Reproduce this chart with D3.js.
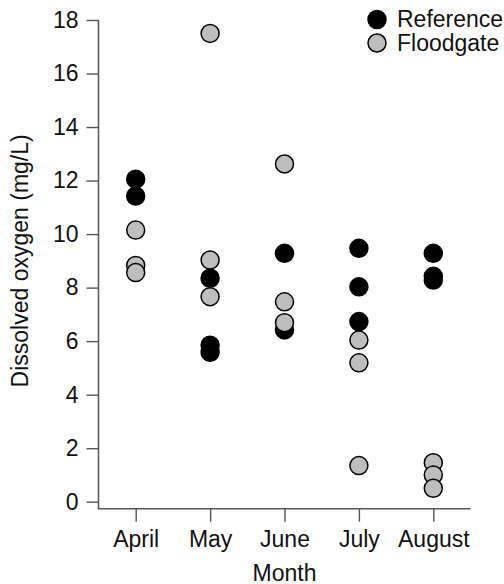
<!DOCTYPE html>
<html>
<head>
<meta charset="utf-8">
<script src="https://cdn.jsdelivr.net/npm/d3@7"></script>
<style>
  body { margin: 0; background: #fff; }
  svg text { font-family: "Liberation Sans", Arial, Helvetica, sans-serif; fill: #111; }
</style>
</head>
<body>
<svg id="chart" width="504" height="584"></svg>
<script>
// Data
var months = ['April', 'May', 'June', 'July', 'August']
var reference = [
  [12.05, 11.42],
  [8.35, 5.85, 5.58],
  [9.28, 6.42],
  [9.47, 8.03, 6.73],
  [9.28, 8.42, 8.28]
]
var floodgate = [
  [10.15, 8.83, 8.56],
  [17.5, 9.03, 7.66],
  [12.62, 7.47, 6.69],
  [6.04, 5.19, 1.35],
  [1.46, 1.0, 0.5]
]
var yTicks = [0, 2, 4, 6, 8, 10, 12, 14, 16, 18]
var legendItems = ['Reference', 'Floodgate']
var fills = { Reference: '#000', Floodgate: '#bebebe' }

var svg = d3.select('#chart')
var fontSize = 23

// Scales
var x = d3.scalePoint().domain(months).range([98.5, 470.5]).padding(0.5)
var y = d3.scaleLinear().domain([0, 18]).range([501.7, 20])
var axisY = 508.7 // bottom of the L box

// y axis
var gy = svg.append('g')
  .attr('transform', 'translate(98.5,0)')
  .call(d3.axisLeft(y).tickValues(yTicks).tickSize(12).tickPadding(8).tickSizeOuter(0))
gy.select('.domain').remove()

// x axis
var gx = svg.append('g')
  .attr('transform', 'translate(0,' + axisY + ')')
  .call(d3.axisBottom(x).tickSize(13).tickPadding(9).tickSizeOuter(0))
gx.select('.domain').remove()

svg.selectAll('.tick line').attr('stroke', '#555').attr('stroke-width', 1.4)
svg.selectAll('.tick text')
  .style('font-size', fontSize + 'px')
  .attr('fill', '#111')

// L-shaped box
svg.append('path')
  .attr('d', 'M98.5,' + y(18) + 'V' + axisY + 'H470.5')
  .attr('fill', 'none')
  .attr('stroke', '#555')
  .attr('stroke-width', 1.5)

// axis titles
svg.append('text')
  .attr('transform', 'translate(28,' + y(9) + ') rotate(-90)')
  .attr('text-anchor', 'middle')
  .style('font-size', fontSize + 'px')
  .text('Dissolved oxygen (mg/L)')

svg.append('text')
  .attr('x', x('June'))
  .attr('y', 580.5)
  .attr('text-anchor', 'middle')
  .style('font-size', fontSize + 'px')
  .text('Month')

// points: reference first, floodgate on top
function flatten(series) {
  var out = []
  series.forEach(function(vals, i) {
    vals.forEach(function(v) { out.push({ month: months[i], value: v }) })
  })
  return out
}

var r = 9
svg.append('g').selectAll('circle')
  .data(flatten(reference))
  .enter().append('circle')
  .attr('cx', d => x(d.month))
  .attr('cy', d => y(d.value))
  .attr('r', r)
  .attr('fill', fills.Reference)
  .attr('stroke', '#000')
  .attr('stroke-width', 1.5)

svg.append('g').selectAll('circle')
  .data(flatten(floodgate))
  .enter().append('circle')
  .attr('cx', d => x(d.month))
  .attr('cy', d => y(d.value))
  .attr('r', r)
  .attr('fill', fills.Floodgate)
  .attr('stroke', '#000')
  .attr('stroke-width', 1.5)

// legend
var legend = svg.append('g').attr('transform', 'translate(377,19.5)')
legendItems.forEach(function(name, i) {
  legend.append('circle')
    .attr('cx', 0)
    .attr('cy', i * 23.5)
    .attr('r', r)
    .attr('fill', fills[name])
    .attr('stroke', '#000')
    .attr('stroke-width', 1.5)
  legend.append('text')
    .attr('x', 20)
    .attr('y', i * 23.5 + 7.5)
    .style('font-size', fontSize + 'px')
    .text(name)
})
</script>
</body>
</html>
